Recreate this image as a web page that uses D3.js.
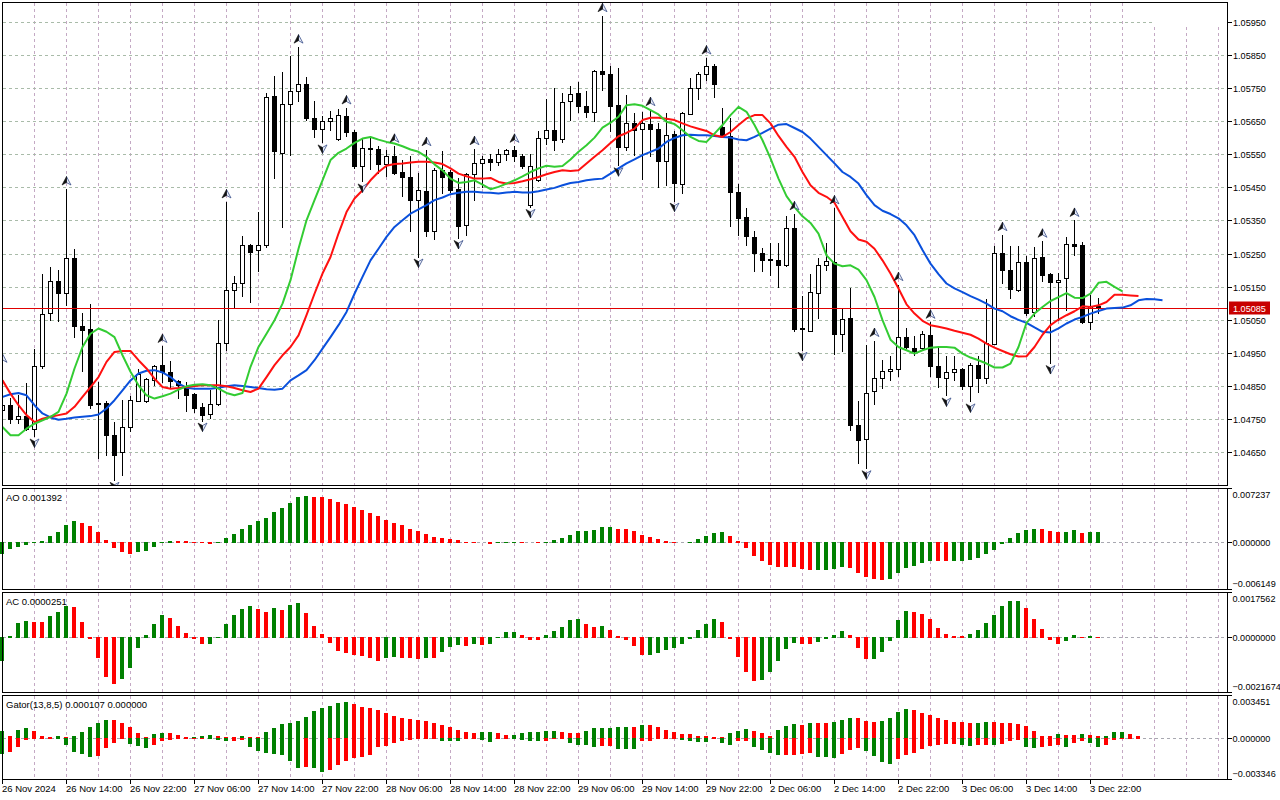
<!DOCTYPE html>
<html>
<head>
<meta charset="utf-8">
<script src="https://cdnjs.cloudflare.com/ajax/libs/d3/7.8.5/d3.min.js"></script>
<style>
body{margin:0;background:#fff}
svg{display:block;font-family:"Liberation Sans",Arial,sans-serif;font-size:9.5px}
.ax{font-size:9.1px}
</style>
</head>
<body>
<svg id="chart" width="1280" height="800"></svg>
<script>
// EURUSD H1, 26 Nov 06:00 .. 3 Dec 23:00
var opens = [
1.04776,1.04793,1.04751,1.04760,1.04719,1.04909,1.05070,1.05168,1.05130,1.05236,
1.05032,1.05023,1.04797,1.04798,1.04702,1.04650,1.04725,1.04803,1.04803,1.04868,
1.04912,1.04891,1.04865,1.04848,1.04825,1.04786,1.04765,1.04795,1.04979,1.05141,
1.05161,1.05276,1.05261,1.05275,1.05725,1.05554,1.05703,1.05742,1.05762,1.05660,
1.05626,1.05650,1.05596,1.05667,1.05617,1.05514,1.05569,1.05567,1.05521,1.05546,
1.05498,1.05481,1.05411,1.05440,1.05319,1.05503,1.05498,1.05446,1.05335,1.05490,
1.05524,1.05537,1.05527,1.05551,1.05564,1.05546,1.05396,1.05473,1.05599,1.05622,
1.05596,1.05710,1.05735,1.05697,1.05677,1.05803,1.05794,1.05700,1.05572,1.05645,
1.05626,1.05643,1.05627,1.05529,1.05612,1.05460,1.05672,1.05750,1.05793,1.05818,
1.05632,1.05606,1.05436,1.05360,1.05300,1.05251,1.05234,1.05231,1.05216,1.05327,
1.05025,1.05015,1.05130,1.05214,1.05224,1.05006,1.05055,1.04732,1.04689,1.04833,
1.04873,1.04896,1.04901,1.04997,1.04964,1.04964,1.05004,1.04911,1.04875,1.04892,
1.04902,1.04851,1.04914,1.04875,1.04976,1.05251,1.05201,1.05141,1.05224,1.05072,
1.05239,1.05189,1.05164,1.05176,1.05279,1.05277,1.05042,1.05090]
var highs = [
1.04909,1.04813,1.04823,1.04858,1.04962,1.05189,1.05208,1.05201,1.05445,1.05265,
1.05070,1.05098,1.04863,1.04805,1.04742,1.04806,1.04820,1.04901,1.04873,1.04914,
1.04969,1.04924,1.04868,1.04863,1.04828,1.04798,1.04838,1.05050,1.05406,1.05183,
1.05302,1.05279,1.05376,1.05735,1.05788,1.05798,1.05846,1.05874,1.05784,1.05710,
1.05665,1.05682,1.05688,1.05690,1.05624,1.05596,1.05604,1.05576,1.05564,1.05574,
1.05534,1.05546,1.05493,1.05564,1.05509,1.05561,1.05503,1.05478,1.05493,1.05567,
1.05546,1.05552,1.05567,1.05567,1.05574,1.05552,1.05552,1.05621,1.05717,1.05749,
1.05735,1.05757,1.05768,1.05740,1.05804,1.05969,1.05818,1.05811,1.05730,1.05675,
1.05677,1.05685,1.05645,1.05675,1.05619,1.05678,1.05781,1.05798,1.05841,1.05824,
1.05690,1.05660,1.05460,1.05388,1.05319,1.05267,1.05282,1.05282,1.05362,1.05370,
1.05122,1.05189,1.05236,1.05282,1.05388,1.05085,1.05146,1.04805,1.04974,1.04987,
1.04929,1.04941,1.05156,1.05025,1.05001,1.05015,1.05042,1.04964,1.04939,1.04939,
1.04904,1.04919,1.04941,1.05113,1.05274,1.05307,1.05272,1.05274,1.05243,1.05269,
1.05287,1.05191,1.05191,1.05300,1.05350,1.05285,1.05125,1.05115]
var lows = [
1.04745,1.04737,1.04739,1.04717,1.04697,1.04904,1.05050,1.05045,1.05095,1.04997,
1.04894,1.04783,1.04631,1.04642,1.04566,1.04581,1.04712,1.04803,1.04800,1.04853,
1.04863,1.04848,1.04813,1.04773,1.04770,1.04745,1.04752,1.04793,1.04957,1.05088,
1.05123,1.05103,1.05196,1.05270,1.05478,1.05329,1.05549,1.05710,1.05653,1.05603,
1.05586,1.05622,1.05592,1.05604,1.05509,1.05468,1.05505,1.05495,1.05483,1.05491,
1.05423,1.05317,1.05241,1.05304,1.05295,1.05433,1.05435,1.05297,1.05307,1.05413,
1.05450,1.05503,1.05517,1.05534,1.05531,1.05510,1.05391,1.05468,1.05582,1.05562,
1.05586,1.05655,1.05678,1.05663,1.05650,1.05745,1.05619,1.05517,1.05562,1.05549,
1.05476,1.05544,1.05450,1.05456,1.05410,1.05433,1.05672,1.05717,1.05776,1.05722,
1.05604,1.05332,1.05307,1.05275,1.05196,1.05196,1.05186,1.05149,1.05211,1.05015,
1.04959,1.05015,1.05055,1.05201,1.04946,1.04956,1.04717,1.04616,1.04601,1.04796,
1.04843,1.04868,1.04880,1.04964,1.04944,1.04959,1.04880,1.04848,1.04821,1.04868,
1.04840,1.04803,1.04831,1.04860,1.04976,1.05161,1.05117,1.05136,1.05065,1.05060,
1.05166,1.04919,1.05050,1.05080,1.05246,1.05040,1.05022,1.05070]
var closes = [
1.04793,1.04749,1.04760,1.04719,1.04911,1.05068,1.05168,1.05130,1.05236,1.05030,
1.05018,1.04791,1.04795,1.04700,1.04640,1.04725,1.04808,1.04886,1.04870,1.04911,
1.04891,1.04865,1.04853,1.04823,1.04783,1.04763,1.04795,1.04979,1.05141,1.05161,
1.05276,1.05256,1.05276,1.05723,1.05559,1.05702,1.05742,1.05762,1.05660,1.05626,
1.05650,1.05660,1.05670,1.05616,1.05514,1.05569,1.05566,1.05521,1.05546,1.05495,
1.05481,1.05411,1.05443,1.05317,1.05504,1.05480,1.05443,1.05334,1.05490,1.05524,
1.05536,1.05527,1.05551,1.05562,1.05544,1.05516,1.05516,1.05599,1.05622,1.05592,
1.05708,1.05732,1.05695,1.05677,1.05801,1.05793,1.05695,1.05571,1.05645,1.05624,
1.05645,1.05626,1.05529,1.05608,1.05463,1.05675,1.05750,1.05793,1.05818,1.05762,
1.05606,1.05436,1.05357,1.05302,1.05251,1.05231,1.05231,1.05216,1.05327,1.05023,
1.05022,1.05133,1.05214,1.05226,1.05006,1.05053,1.04732,1.04687,1.04828,1.04873,
1.04896,1.04902,1.04997,1.04966,1.04956,1.05007,1.04909,1.04876,1.04892,1.04901,
1.04851,1.04912,1.04875,1.04979,1.05251,1.05201,1.05143,1.05224,1.05070,1.05236,
1.05186,1.05163,1.05171,1.05279,1.05272,1.05042,1.05090,1.05085]

// alligator lines as drawn (already shifted forward)
var jaw = [
1.04818,1.04826,1.04830,1.04823,1.04793,1.04768,1.04756,1.04749,1.04752,1.04756,
1.04758,1.04760,1.04765,1.04783,1.04808,1.04838,1.04868,1.04889,1.04897,1.04899,
1.04892,1.04878,1.04858,1.04846,1.04843,1.04843,1.04843,1.04846,1.04850,1.04853,
1.04851,1.04848,1.04845,1.04841,1.04840,1.04843,1.04868,1.04883,1.04899,1.04929,
1.04964,1.04999,1.05035,1.05075,1.05130,1.05181,1.05231,1.05266,1.05302,1.05332,
1.05352,1.05372,1.05385,1.05398,1.05413,1.05421,1.05431,1.05435,1.05438,1.05438,
1.05436,1.05435,1.05433,1.05436,1.05438,1.05436,1.05436,1.05440,1.05445,1.05450,
1.05458,1.05465,1.05468,1.05473,1.05476,1.05478,1.05493,1.05509,1.05524,1.05536,
1.05549,1.05559,1.05569,1.05589,1.05601,1.05609,1.05611,1.05609,1.05609,1.05607,
1.05604,1.05602,1.05596,1.05594,1.05604,1.05616,1.05629,1.05641,1.05643,1.05631,
1.05619,1.05599,1.05574,1.05549,1.05524,1.05498,1.05483,1.05463,1.05428,1.05398,
1.05381,1.05371,1.05358,1.05337,1.05307,1.05262,1.05221,1.05189,1.05161,1.05146,
1.05135,1.05123,1.05112,1.05100,1.05085,1.05077,1.05062,1.05051,1.05042,1.05028,
1.05015,1.05013,1.05025,1.05040,1.05052,1.05060,1.05070,1.05078,1.05085,1.05087,
1.05088,1.05095,1.05110,1.05114,1.05113,1.05110]
var teeth = [
1.04868,1.04828,1.04793,1.04763,1.04742,1.04752,1.04758,1.04763,1.04768,1.04788,
1.04818,1.04848,1.04878,1.04924,1.04954,1.04957,1.04957,1.04929,1.04904,1.04873,
1.04848,1.04843,1.04845,1.04848,1.04851,1.04853,1.04853,1.04853,1.04850,1.04845,
1.04838,1.04833,1.04843,1.04878,1.04914,1.04944,1.04969,1.05004,1.05065,1.05130,
1.05191,1.05241,1.05312,1.05377,1.05418,1.05443,1.05473,1.05498,1.05517,1.05522,
1.05524,1.05527,1.05529,1.05529,1.05527,1.05522,1.05509,1.05493,1.05485,1.05478,
1.05478,1.05480,1.05468,1.05463,1.05465,1.05470,1.05476,1.05483,1.05491,1.05498,
1.05503,1.05501,1.05503,1.05524,1.05544,1.05564,1.05586,1.05606,1.05616,1.05629,
1.05655,1.05662,1.05662,1.05659,1.05655,1.05645,1.05636,1.05629,1.05622,1.05609,
1.05604,1.05619,1.05640,1.05660,1.05670,1.05670,1.05645,1.05607,1.05574,1.05544,
1.05498,1.05458,1.05435,1.05423,1.05405,1.05362,1.05319,1.05294,1.05287,1.05266,
1.05231,1.05191,1.05146,1.05098,1.05070,1.05048,1.05035,1.05030,1.05025,1.05018,
1.05012,1.05006,1.04994,1.04979,1.04967,1.04957,1.04947,1.04940,1.04941,1.04969,
1.05006,1.05035,1.05052,1.05065,1.05077,1.05092,1.05090,1.05095,1.05105,1.05127,
1.05127,1.05125,1.05123]
var lips = [
1.04727,1.04702,1.04702,1.04722,1.04737,1.04747,1.04758,1.04773,1.04828,1.04904,
1.04969,1.05009,1.05025,1.05015,1.04999,1.04944,1.04894,1.04853,1.04823,1.04813,
1.04820,1.04828,1.04840,1.04850,1.04855,1.04856,1.04853,1.04843,1.04830,1.04823,
1.04830,1.04909,1.04969,1.05009,1.05050,1.05100,1.05171,1.05266,1.05352,1.05413,
1.05473,1.05534,1.05556,1.05569,1.05586,1.05599,1.05604,1.05596,1.05589,1.05584,
1.05576,1.05566,1.05559,1.05544,1.05521,1.05503,1.05478,1.05465,1.05468,1.05473,
1.05460,1.05446,1.05453,1.05463,1.05473,1.05485,1.05498,1.05509,1.05517,1.05514,
1.05516,1.05536,1.05559,1.05579,1.05602,1.05632,1.05647,1.05665,1.05700,1.05703,
1.05698,1.05685,1.05672,1.05650,1.05643,1.05624,1.05604,1.05592,1.05589,1.05614,
1.05640,1.05670,1.05695,1.05680,1.05640,1.05594,1.05539,1.05478,1.05425,1.05392,
1.05364,1.05344,1.05312,1.05246,1.05221,1.05213,1.05216,1.05203,1.05171,1.05120,
1.05050,1.04991,1.04969,1.04959,1.04949,1.04959,1.04967,1.04969,1.04969,1.04967,
1.04949,1.04937,1.04929,1.04919,1.04907,1.04907,1.04919,1.04969,1.05042,1.05070,
1.05090,1.05108,1.05120,1.05132,1.05118,1.05117,1.05130,1.05163,1.05166,1.05151,
1.05137]

var fractalUp = [0,8,20,28,37,43,49,53,59,64,75,81,88,99,104,109,112,116,125,130,134]
var fractalDown = [4,14,25,40,45,52,57,66,77,84,100,108,118,121,131]

var aoValues = [
-0.00153,-0.00087,-0.00052,-0.00026,0.00002,0.00022,0.00087,0.0014,0.00232,0.00284,
0.00258,0.00219,0.0014,0.00035,-0.0007,-0.00122,-0.00149,-0.00131,-0.00109,-0.00052,
0.00005,0.00022,0.0002,0.00017,0.00009,-0.00005,-0.0002,-0.0001,0.0006,0.00114,
0.0018,0.00232,0.00284,0.00324,0.00402,0.00455,0.0052,0.00599,0.00612,0.00603,
0.00599,0.00573,0.00534,0.00507,0.00468,0.00429,0.00389,0.00354,0.00297,0.00258,
0.00232,0.00184,0.00149,0.00109,0.0007,0.00057,0.00044,0.00031,0.00004,0.00002,
0.00001,-0.00022,-0.00004,0.0001,0.00013,0.00009,0.00001,-0.00001,0.00005,0.00031,
0.00057,0.00105,0.00149,0.0015,0.00166,0.00201,0.00203,0.00184,0.00175,0.00149,
0.00096,0.0007,0.00044,0.00017,0.00004,0.00001,0.00004,0.00044,0.00083,0.00122,
0.00136,0.00083,0.00017,-0.0007,-0.00175,-0.00245,-0.00297,-0.00324,-0.00325,-0.00326,
-0.0035,-0.00363,-0.00362,-0.0036,-0.0035,-0.00324,-0.00337,-0.00402,-0.00455,-0.00481,
-0.00494,-0.00481,-0.00402,-0.00337,-0.0031,-0.00271,-0.00245,-0.00246,-0.00247,-0.00245,
-0.00244,-0.00232,-0.00206,-0.00154,-0.00101,-0.00022,0.00057,0.00122,0.00162,0.00175,
0.00174,0.00149,0.00136,0.00137,0.00162,0.0013,0.00135,0.001392]
var acValues = [
-0.0009,0.00004,0.00057,0.00066,0.00062,0.00059,0.00082,0.00101,0.00121,0.0012,
0.00059,-0.00005,-0.00081,-0.00155,-0.00181,-0.00164,-0.0012,-0.00042,0.00008,0.00053,
0.00086,0.00078,0.00046,0.00016,-0.00005,-0.00026,-0.00025,0.00001,0.00051,0.00086,
0.00113,0.00121,0.00113,0.00098,0.00117,0.00109,0.00125,0.00133,0.00094,0.00043,
0.00012,-0.00023,-0.00051,-0.00059,-0.0007,-0.00074,-0.00082,-0.0009,-0.00082,-0.00078,
-0.00079,-0.0008,-0.00085,-0.00081,-0.00082,-0.00056,-0.00038,-0.0003,-0.00034,-0.00026,
-0.0003,-0.00026,0.00003,0.00021,0.00022,0.00009,-0.00008,-0.00009,0.00009,0.00025,
0.0004,0.00068,0.00072,0.00052,0.0004,0.00044,0.00029,0.00005,-0.00008,-0.00034,
-0.00069,-0.00068,-0.00061,-0.00049,-0.00042,-0.00026,-0.00004,0.00029,0.00052,0.00072,
0.0006,-0.00004,-0.00077,-0.00135,-0.00169,-0.00167,-0.00135,-0.00092,-0.00046,-0.00022,
-0.00026,-0.00027,-0.00018,-0.00005,0.00009,0.00025,0.00009,-0.00042,-0.00085,-0.00084,
-0.00056,-0.00014,0.00068,0.00103,0.00099,0.00091,0.00072,0.00036,0.00013,0.00005,
0.00004,0.00013,0.00029,0.00056,0.00087,0.00122,0.00142,0.00143,0.00114,0.00072,
0.00033,-0.00008,-0.00026,-0.00014,0.00009,0.00001,0.00004,0.0000251]
var gatorUp = [
0.00062,0.00019,0.00067,0.00081,0.00062,0.00019,0.00011,0.00019,0.00011,0.00019,
0.00051,0.00092,0.00124,0.00151,0.0015,0.00124,0.00092,0.00043,0.00011,0.00035,
0.00043,0.00042,0.00027,0.00011,0.00012,0.00019,0.00027,0.00019,0.00011,0.0001,
0.00019,0.00013,0.00011,0.00051,0.00084,0.00116,0.00124,0.00143,0.00173,0.00221,
0.00245,0.00262,0.00286,0.00294,0.00278,0.00254,0.00245,0.00229,0.00205,0.00181,
0.00165,0.00155,0.00148,0.0014,0.00124,0.00108,0.00092,0.00067,0.00051,0.00043,
0.00051,0.00052,0.00043,0.00027,0.00028,0.00043,0.00051,0.00052,0.00059,0.0006,
0.00051,0.00043,0.00042,0.00059,0.00084,0.00085,0.00086,0.00092,0.00093,0.00091,
0.00108,0.00107,0.00092,0.00067,0.00051,0.00035,0.00034,0.00019,0.00018,0.00011,
0.0001,0.00043,0.00059,0.00076,0.00059,0.00043,0.00019,0.00067,0.001,0.00116,
0.00108,0.00124,0.00123,0.00122,0.00132,0.00148,0.00165,0.00164,0.0014,0.00132,
0.0014,0.00165,0.00213,0.00237,0.00229,0.00205,0.00189,0.00165,0.00148,0.00132,
0.00131,0.00124,0.00125,0.00132,0.00131,0.00124,0.00123,0.00116,0.001,0.00059,
0.00019,0.00018,0.00035,0.00027,0.00026,0.00035,0.00027,0.00019,0.0002,0.00051,
0.00052,0.00035,0.00019]
var gatorDown = [
-0.00129,-0.00108,-0.00067,-0.00013,-0.00008,-0.00005,-0.00003,-0.00005,-0.00054,-0.00108,
-0.00127,-0.00148,-0.0014,-0.00076,-0.00038,-0.00005,-0.00043,-0.00065,-0.00076,-0.00054,
-0.00019,-0.00011,-0.00003,-0.00003,-0.00003,-0.00003,-0.00005,-0.00011,-0.00019,-0.00019,
-0.00011,-0.00067,-0.001,-0.00116,-0.00127,-0.00135,-0.00181,-0.00237,-0.00236,-0.00238,
-0.0027,-0.00254,-0.00216,-0.00181,-0.00162,-0.00148,-0.00135,-0.00067,-0.00059,-0.0004,
-0.00022,-0.00013,-0.00005,-0.00004,-0.00003,-0.00022,-0.00023,-0.00024,-0.00003,-0.00002,
-0.00013,-0.0003,-0.00003,-0.00002,-0.00003,-0.00013,-0.00022,-0.00023,-0.00022,-0.00003,
-0.00002,-0.00038,-0.00054,-0.00055,-0.0007,-0.00062,-0.00061,-0.00086,-0.00087,-0.00088,
-0.00022,-0.00021,-0.00003,-0.00002,-0.00002,-0.00013,-0.00022,-0.0003,-0.00031,-0.00003,
-0.00038,-0.00054,-0.00022,-0.00021,-0.0007,-0.00094,-0.00119,-0.00135,-0.00134,-0.00133,
-0.00127,-0.00119,-0.00151,-0.00152,-0.00159,-0.00127,-0.00094,-0.00078,-0.00102,-0.00143,
-0.00191,-0.00208,-0.00167,-0.00135,-0.00119,-0.00086,-0.00062,-0.00054,-0.00046,-0.00045,
-0.00054,-0.00062,-0.00054,-0.00053,-0.00054,-0.00046,-0.00022,-0.00013,-0.0007,-0.00078,
-0.0007,-0.00062,-0.00054,-0.0007,-0.00038,-0.00022,-0.00038,-0.0007,-0.00054,-0.00013,
-0.00005]

var priceTicks = [1.0595,1.0585,1.0575,1.0565,1.0555,1.0545,1.0535,1.0525,1.0515,1.0505,1.0495,1.0485,1.0475,1.0465]
var lastPrice = 1.05085
var timeLabels = ["26 Nov 2024","26 Nov 14:00","26 Nov 22:00","27 Nov 06:00","27 Nov 14:00","27 Nov 22:00",
  "28 Nov 06:00","28 Nov 14:00","28 Nov 22:00","29 Nov 06:00","29 Nov 14:00","29 Nov 22:00",
  "2 Dec 06:00","2 Dec 14:00","2 Dec 22:00","3 Dec 06:00","3 Dec 14:00","3 Dec 22:00"]
var aoRange = [-0.006149, 0.007237]
var acRange = [-0.0021674, 0.0017562]
var gatorRange = [-0.003346, 0.003451]

var GREEN = "#008000", RED = "#ff0000"
var L = 2.5, R = 1227.5

var svg = d3.select("#chart")
var xs = d3.scaleLinear().domain([0, 152]).range([2.5, 1218.5])
var yMain = d3.scaleLinear().domain([1.0465, 1.0595]).range([452.5, 22.5])
var yAO = d3.scaleLinear().domain(aoRange).range([589, 488])
var yAC = d3.scaleLinear().domain(acRange).range([693, 592.5])
var yGator = d3.scaleLinear().domain(gatorRange).range([779.5, 696])

var panes = [
  {top: 2.5, bottom: 485.5},
  {top: 488.5, bottom: 589.5},
  {top: 592.5, bottom: 692.5},
  {top: 695.5, bottom: 779.5}
]

function row(v){ return Math.floor(v) + 0.5 }

// vertical grid in every pane
var gridIdx = d3.range(4, 153, 4)
panes.forEach(function(p){
  svg.append("g").selectAll("line").data(gridIdx).enter().append("line")
    .attr("x1", d => xs(d)).attr("x2", d => xs(d))
    .attr("y1", p.top).attr("y2", p.bottom)
    .attr("stroke", "#c4a9c4").attr("stroke-dasharray", "3,3")
    .style("shape-rendering", "crispEdges")
})

svg.append("g").selectAll("line").data(priceTicks).enter().append("line")
  .attr("x1", L).attr("x2", R)
  .attr("y1", d => row(yMain(d))).attr("y2", d => row(yMain(d)))
  .attr("stroke", "#a9bba9").attr("stroke-dasharray", "3,3")
  .style("shape-rendering", "crispEdges")

// blank patch at top right of the price window
svg.append("rect").attr("x", 1154).attr("y", 3).attr("width", 73).attr("height", 22).attr("fill", "#fff")

svg.append("clipPath").attr("id", "mainclip").append("rect")
  .attr("x", 3).attr("y", 3).attr("width", 1224).attr("height", 482)

var main = svg.append("g").attr("clip-path", "url(#mainclip)")

// candles
var bars = d3.range(closes.length).map(function(i){
  return {i: i, o: opens[i], h: highs[i], l: lows[i], c: closes[i]}
})
var cg = main.append("g").style("shape-rendering", "crispEdges")
bars.forEach(function(d){
  var x = xs(d.i)
  cg.append("line").attr("x1", x).attr("x2", x)
    .attr("y1", Math.floor(yMain(d.h))).attr("y2", Math.floor(yMain(d.l)) + 1)
    .attr("stroke", "#000")
  var top = row(yMain(Math.max(d.o, d.c))), bot = row(yMain(Math.min(d.o, d.c)))
  if (bot - top < 1) {
    cg.append("line").attr("x1", x - 2.5).attr("x2", x + 2.5).attr("y1", top).attr("y2", top).attr("stroke", "#000")
  } else {
    cg.append("rect").attr("x", x - 2).attr("y", top).attr("width", 4).attr("height", bot - top)
      .attr("fill", d.c >= d.o ? "#fff" : "#000").attr("stroke", "#000")
  }
})

// current price line
main.append("line").attr("x1", L).attr("x2", R)
  .attr("y1", row(yMain(lastPrice))).attr("y2", row(yMain(lastPrice)))
  .attr("stroke", "#e00000").style("shape-rendering", "crispEdges")

// alligator
var line = d3.line().x((d, i) => xs(i)).y(d => yMain(d))
;[[jaw, "#0a50dc"], [teeth, "#ff1010"], [lips, "#33cc33"]].forEach(function(s){
  main.append("path").datum(s[0]).attr("d", line)
    .attr("fill", "none").attr("stroke", s[1]).attr("stroke-width", 2).attr("stroke-linejoin", "round")
})

// fractals
function arrow(g, x, y, flip){
  var a = g.append("g").attr("transform", "translate(" + x + "," + y + ")" + (flip ? " scale(1,-1)" : ""))
  a.append("path").attr("d", "M0,-4.5L4.5,4L0,1.5Z").attr("fill", "#e8ecf6").attr("stroke", "#3a4f8a").attr("stroke-width", 0.8)
  a.append("path").attr("d", "M0,-4.5L-4.5,4L0,1.5Z").attr("fill", "#111").attr("stroke", "#111").attr("stroke-width", 0.6)
}
var fg = main.append("g")
fractalUp.forEach(i => arrow(fg, xs(i), yMain(highs[i]) - 8.5, false))
fractalDown.forEach(i => arrow(fg, xs(i), yMain(lows[i]) + 6, true))

// histogram panes
function histogram(values, y, colorOf){
  var z = Math.floor(y(0))
  var g = svg.append("g").style("shape-rendering", "crispEdges")
  values.forEach(function(v, i){
    if (v == null) return
    var r = Math.round(y(v))
    var y0 = v >= 0 ? r : z, y1 = v >= 0 ? z + 1 : r
    if (y1 - y0 < 1) return
    g.append("rect").attr("x", xs(i) - 2.5).attr("y", y0).attr("width", 4).attr("height", y1 - y0)
      .attr("fill", colorOf(v, i))
  })
}
function zeroLine(y){
  svg.append("line").attr("x1", L).attr("x2", R).attr("y1", row(y(0))).attr("y2", row(y(0)))
    .attr("stroke", "#a8a8b0").attr("stroke-dasharray", "3,3").style("shape-rendering", "crispEdges")
}

zeroLine(yAO); zeroLine(yAC); zeroLine(yGator)
histogram(aoValues, yAO, (v, i) => (i == 0 || v > aoValues[i - 1]) ? GREEN : RED)
histogram(acValues, yAC, (v, i) => (i == 0 || v > acValues[i - 1]) ? GREEN : RED)
histogram(gatorUp, yGator, (v, i) => (i == 0 || v > gatorUp[i - 1]) ? GREEN : RED)
histogram(gatorDown, yGator, (v, i) => (i == 0 || Math.abs(v) > Math.abs(gatorDown[i - 1])) ? GREEN : RED)

// frames
panes.forEach(function(p){
  svg.append("rect").attr("x", L).attr("y", p.top).attr("width", R - L).attr("height", p.bottom - p.top)
    .attr("fill", "none").attr("stroke", "#000").style("shape-rendering", "crispEdges")
})

// price axis
var axis = svg.append("g").style("shape-rendering", "crispEdges")
priceTicks.forEach(function(p){
  var yy = row(yMain(p))
  axis.append("line").attr("x1", R).attr("x2", 1232).attr("y1", yy).attr("y2", yy).attr("stroke", "#000")
  axis.append("text").attr("class", "ax").attr("x", 1233).attr("y", yy + 3.5).text(d3.format(".5f")(p))
})
var ly = row(yMain(lastPrice))
svg.append("rect").attr("x", 1229).attr("y", ly - 7).attr("width", 41).attr("height", 13).attr("fill", "#c80000")
svg.append("text").attr("class", "ax").attr("x", 1233).attr("y", ly + 3.5).attr("fill", "#fff").text(d3.format(".5f")(lastPrice))

// indicator axes
function sideLabels(y, range, fmt, p){
  var f = d3.format(fmt)
  var spots = [[range[1], p.top, p.top + 9], [0, row(y(0)), row(y(0)) + 3.5], [range[0], p.bottom, p.bottom - 2.5]]
  spots.forEach(function(s){
    axis.append("line").attr("x1", R).attr("x2", 1232).attr("y1", s[1]).attr("y2", s[1]).attr("stroke", "#000")
    axis.append("text").attr("class", "ax").attr("x", 1232.5).attr("y", s[2]).text(f(s[0]))
  })
}
sideLabels(yAO, aoRange, ".6f", panes[1])
sideLabels(yAC, acRange, ".7f", panes[2])
sideLabels(yGator, gatorRange, ".6f", panes[3])

svg.append("text").attr("x", 6).attr("y", 500.5).text("AO " + d3.format(".6f")(aoValues[aoValues.length - 1]))
svg.append("text").attr("x", 6).attr("y", 604.5).text("AC " + d3.format(".7f")(acValues[acValues.length - 1]))
svg.append("text").attr("x", 6).attr("y", 708).text("Gator(13,8,5) 0.000107 0.000000")

// time axis
timeLabels.forEach(function(t, k){
  var x = xs(k * 8)
  axis.append("line").attr("x1", x).attr("x2", x).attr("y1", 779.5).attr("y2", 784).attr("stroke", "#000")
  axis.append("text").attr("x", k == 0 ? 2 : x - 0.5).attr("y", 792).text(t)
})
</script>
</body>
</html>
